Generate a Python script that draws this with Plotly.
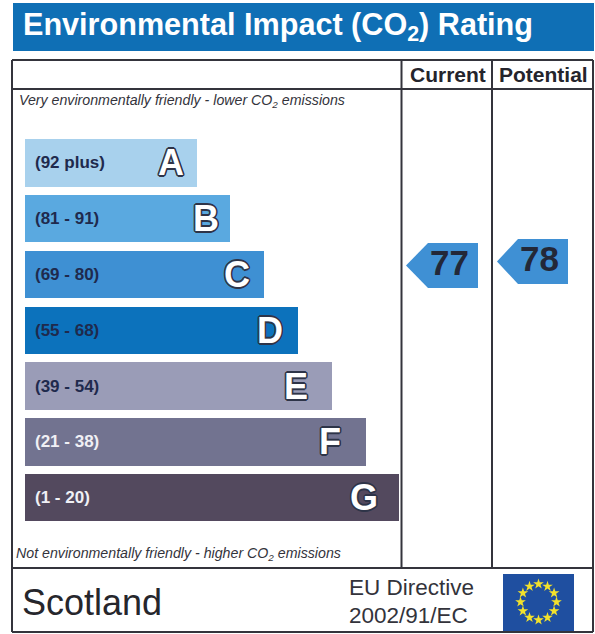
import math
import plotly.graph_objects as go

# ---- data ----
bands = ["A", "B", "C", "D", "E", "F", "G"]
band_ranges = ["(92 plus)", "(81 - 91)", "(69 - 80)", "(55 - 68)", "(39 - 54)", "(21 - 38)", "(1 - 20)"]
band_lengths = [172, 205, 239, 273, 307, 341, 374]
band_colors = ["#a8d1ed", "#5aa9e0", "#3e90d3", "#0c72bc", "#9a9cb7", "#727390", "#53495e"]
range_colors = ["#1f2a4d", "#1f2a4d", "#1f2a4d", "#1f2a4d", "#1f2a4d", "#f0f0f5", "#f0f0f5"]
columns = ["Current", "Potential"]
ratings = [77, 78]

W, H = 595, 634
BAR_LEFT = 24.5
FONT = "Liberation Sans"
DARK = "#2b2b33"
LETTER_INSET = [11, 9, 12, 13, 22, 23, 19]
OUTLINE = "-1.3px -1.3px 0 #2e3448,1.3px -1.3px 0 #2e3448,-1.3px 1.3px 0 #2e3448,1.3px 1.3px 0 #2e3448,0 1.6px 0 #2e3448,0 -1.6px 0 #2e3448,1.6px 0 0 #2e3448,-1.6px 0 0 #2e3448"

fig = go.Figure()

fig.add_trace(go.Bar(
    y=bands, x=band_lengths, base=BAR_LEFT, orientation="h",
    width=0.85, marker=dict(color=band_colors, line=dict(width=0)),
    xaxis="x", yaxis="y", hoverinfo="skip", showlegend=False,
))

# rating arrows (column: left edge, notch, right edge, top, bottom)
arrow_geo = [(406, 428, 478, 243, 288), (497, 518, 568, 239, 284)]
for (x0, xn, x1, yt, yb), val in zip(arrow_geo, ratings):
    fig.add_trace(go.Scatter(
        x=[x0, xn, x1, x1, xn, x0], y=[(yt + yb) / 2, yt, yt, yb, yb, (yt + yb) / 2],
        mode="lines", fill="toself", fillcolor="#3f90d4", line=dict(width=0),
        xaxis="x", yaxis="y2", hoverinfo="skip", showlegend=False,
    ))
    fig.add_trace(go.Scatter(
        x=[(xn + x1) / 2 - 3.5], y=[(yt + yb) / 2 + 1], mode="text", text=[str(val)],
        textfont=dict(family=FONT, size=35, color="#232838", weight="bold"),
        textposition="middle center",
        xaxis="x", yaxis="y2", hoverinfo="skip", showlegend=False,
    ))

# EU flag stars
cx, cy, r = 538.5, 602, 18
fig.add_trace(go.Scatter(
    x=[cx + r * math.sin(i * math.pi / 6) for i in range(12)],
    y=[cy - r * math.cos(i * math.pi / 6) for i in range(12)],
    mode="markers", marker=dict(symbol="star", size=8, color="#f2e12c", line=dict(width=0)),
    xaxis="x", yaxis="y2", hoverinfo="skip", showlegend=False,
))

def line(x0, y0, x1, y1, w=2, c="#34343c"):
    return dict(type="line", xref="x", yref="y2", x0=x0, y0=y0, x1=x1, y1=y1,
                line=dict(color=c, width=w), layer="below")

def rect(x0, y0, x1, y1, c):
    return dict(type="rect", xref="x", yref="y2", x0=x0, y0=y0, x1=x1, y1=y1,
                fillcolor=c, line=dict(width=0), layer="below")

shapes = [
    rect(13, 3, 594, 51, "#0f6fb5"),
    rect(503, 574, 574, 631, "#1f4fa0"),
    line(12, 60, 593, 60), line(12, 60, 12, 632), line(12, 632, 593, 632),
    line(593, 60, 593, 632), line(12, 89, 593, 89), line(11, 568, 593, 568),
    line(401.5, 60, 401.5, 568), line(492, 60, 492, 568),
]

def note(text, x, y, size, color=DARK, bold=False, italic=False, anchor="left", family=FONT, shadow=None):
    f = dict(family=family, size=size, color=color)
    if bold:
        f["weight"] = "bold"
    if italic:
        f["style"] = "italic"
    if shadow:
        f["shadow"] = shadow
    return dict(text=text, x=x, y=y, xref="x", yref="y2", showarrow=False,
                xanchor=anchor, yanchor="middle", font=f)

annotations = [
    note("Environmental Impact (CO<sub>2</sub>) Rating", 20.5, 26, 30.6, "#ffffff", bold=True),
    note(columns[0], 448, 74, 21, "#24242c", bold=True, anchor="center"),
    note(columns[1], 543.5, 74, 21, "#24242c", bold=True, anchor="center"),
    note("Very environmentally friendly - lower CO<sub>2</sub> emissions", 17, 101, 14.2, "#33333b", italic=True),
    note("Not environmentally friendly - higher CO<sub>2</sub> emissions", 14, 554, 14.2, "#33333b", italic=True),
    note("Scotland", 20, 602, 36, "#26262c"),
    note("EU Directive", 347, 587, 22.5, "#33333b"),
    note("2002/91/EC", 347, 615, 22.5, "#33333b"),
]
for b, rng, ln, col, inset in zip(bands, band_ranges, band_lengths, range_colors, LETTER_INSET):
    annotations.append(dict(
        text=rng, x=BAR_LEFT + 8, y=b, xref="x", yref="y", showarrow=False, xanchor="left",
        yanchor="middle", font=dict(family=FONT, size=17, color=col, weight="bold"),
    ))
    annotations.append(dict(
        text=b, x=BAR_LEFT + ln - inset, y=b, xref="x", yref="y", showarrow=False, xanchor="right",
        yanchor="middle", font=dict(family=FONT, size=36, color="#ffffff", weight="bold", shadow=OUTLINE),
    ))

fig.update_layout(
    width=W, height=H, margin=dict(l=0, r=0, t=0, b=0),
    paper_bgcolor="#ffffff", plot_bgcolor="rgba(0,0,0,0)",
    shapes=shapes, annotations=annotations, showlegend=False, bargap=0,
    xaxis=dict(range=[0, W], domain=[0, 1], visible=False, fixedrange=True),
    yaxis=dict(type="category", categoryorder="array", categoryarray=bands,
               range=[6.5, -0.5], domain=[1 - 525.5 / H, 1 - 135 / H], visible=False, fixedrange=True),
    yaxis2=dict(range=[H, 0], domain=[0, 1], anchor="x", visible=False, fixedrange=True),
)

fig.write_html("out.html", config={"displayModeBar": False},
               post_script="document.body.style.margin='0';document.body.style.overflow='hidden';")
